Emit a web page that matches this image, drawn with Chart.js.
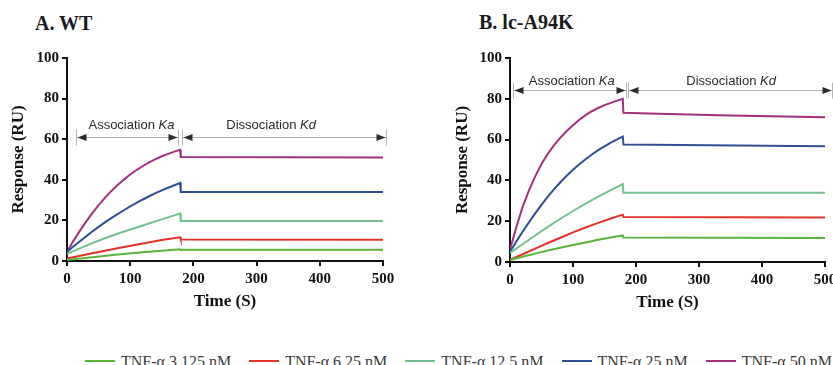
<!DOCTYPE html>
<html>
<head>
<meta charset="utf-8">
<script src="https://cdn.jsdelivr.net/npm/chart.js@4.4.0/dist/chart.umd.min.js"></script>
<style>
  body { margin: 0; width: 833px; height: 365px; overflow: hidden; background: #fff; position: relative; }
  canvas { position: absolute; top: 0; }
  #chartA { left: 0; }
  #chartB { left: 416px; }
  .ptitle { position: absolute; font: bold 20px/20px "Liberation Serif", serif; color: #1a1a1a; white-space: nowrap; }
  #legend { position: absolute; left: 85px; top: 354px; display: flex; gap: 18px; font: 16px/16px "Liberation Serif", serif; color: #3a3a3a; white-space: nowrap; }
  #legend .item { display: flex; align-items: center; }
  #legend .swatch { display: inline-block; width: 30px; height: 2px; margin-right: 6px; position: relative; top: -1px; }
</style>
</head>
<body>
<div class="ptitle" style="left:35px; top:13px;">A. WT</div>
<div class="ptitle" style="left:479px; top:12px;">B. lc-A94K</div>
<canvas id="chartA" width="416" height="317"></canvas>
<canvas id="chartB" width="440" height="318"></canvas>
<div id="legend"></div>
<script>
// concentrations and colours of the five curves
const concentrations = ['3.125', '6.25', '12.5', '25', '50'];
const colors = ['#5ab33e', '#e2332b', '#74bf8f', '#2f4f93', '#a3307e'];

// panel A (WT): [time s, response RU]
const wt3 = [[0,0.5],[40,1.9],[80,3.2],[120,4.3],[150,5.1],[179,5.8],[180,5.6],[500,5.6]];
const wt6 = [[0,1.2],[40,3.8],[80,6.3],[120,8.6],[150,10.3],[179,11.7],[180,10.6],[500,10.5]];
const wt12 = [[0,3.5],[20,6.2],[40,8.8],[60,11.2],[80,13.4],[100,15.5],[120,17.5],[140,19.5],[160,21.5],[179,23.4],[180,19.7],[500,19.7]];
const wt25 = [[0,4.5],[10,7.1],[20,9.6],[30,12.1],[40,14.5],[50,16.8],[60,19],[70,21.1],[80,23.1],[90,25],[100,26.9],
  [110,28.6],[120,30.3],[130,31.9],[140,33.4],[150,34.8],[160,36.1],[170,37.3],[179,38.4],[180,34],[500,34]];
const wt50 = [[0,4.5],[10,9.8],[20,14.7],[30,19.3],[40,23.6],[50,27.5],[60,31.1],[70,34.4],[80,37.4],[90,40.1],[100,42.6],
  [110,44.8],[120,46.8],[130,48.6],[140,50.2],[150,51.6],[160,52.8],[170,53.9],[179,54.8],[180,51.2],[500,51]];

// panel B (lc-A94K)
const mut3 = [[0,1],[20,2.6],[40,4.1],[60,5.6],[80,7],[100,8.3],[120,9.6],[140,10.9],[160,12],[179,13],[180,12],[500,11.8]];
const mut6 = [[0,1],[20,3.8],[40,6.6],[60,9.3],[80,11.9],[100,14.5],[120,16.9],[140,19.2],[160,21.3],[179,23.2],[180,22.1],[500,21.8]];
const mut12 = [[0,4.5],[20,8.7],[40,13],[60,17.2],[80,21.2],[100,25],[120,28.6],[140,32],[160,35.2],[179,38.2],[180,34],[500,34]];
const mut25 = [[0,5],[10,10],[20,14.8],[30,19.4],[40,23.8],[50,28],[60,32],[70,35.7],[80,39.1],[90,42.3],[100,45.2],
  [110,47.9],[120,50.4],[130,52.7],[140,54.8],[150,56.7],[160,58.5],[170,60.1],[179,61.5],[180,57.6],[500,56.8]];
const mut50 = [[0,6],[10,17],[20,27],[30,35],[40,42],[50,48],[60,53],[70,57.3],[80,61],[90,64.2],[100,67],[110,69.7],
  [120,72],[130,73.9],[140,75.5],[150,76.9],[160,78],[170,79.1],[179,80],[180,73.2],[250,72.5],[350,71.8],[500,71]];

// phase annotations: arrow spans (s), arrow level, text level, text centre (s)
const wtAssoc = [14, 176], wtDissoc = [182, 505];
const wtArrowY = 61, wtTextY = 67, wtTextX = [102, 323];
const mutAssoc = [5, 184], mutDissoc = [187, 511];
const mutArrowY = 84.3, mutTextY = 88.7, mutTextX = [98, 351];

const serif = '"Liberation Serif", "Times New Roman", serif';
const sans = '"Liberation Sans", Arial, sans-serif';

function toPoints(arr) {
  return arr.map(p => ({ x: p[0], y: p[1] }));
}

function makeDatasets(series) {
  return series.map((s, i) => ({
    label: 'TNF-α ' + concentrations[i] + ' nM',
    data: toPoints(s),
    borderColor: colors[i],
    borderWidth: 2,
    pointRadius: 0,
    fill: false,
    tension: 0,
  }));
}

function drawHead(ctx, x, y, dir) {
  ctx.beginPath();
  ctx.moveTo(x, y);
  ctx.lineTo(x + dir * 9, y - 3.5);
  ctx.lineTo(x + dir * 9, y + 3.5);
  ctx.closePath();
  ctx.fill();
}

function drawLabel(ctx, cx, cy, word, italic) {
  ctx.font = '13px ' + sans;
  const w1 = ctx.measureText(word + ' ').width;
  ctx.font = 'italic 13px ' + sans;
  const w2 = ctx.measureText(italic).width;
  let x = cx - (w1 + w2) / 2;
  ctx.fillStyle = '#2a2a2a';
  ctx.textBaseline = 'middle';
  ctx.textAlign = 'left';
  ctx.font = '13px ' + sans;
  ctx.fillText(word + ' ', x, cy);
  ctx.font = 'italic 13px ' + sans;
  ctx.fillText(italic, x + w1, cy);
}

const phasePlugin = {
  id: 'phases',
  afterDatasetsDraw(chart, args, opts) {
    const { ctx, scales: { x, y } } = chart;
    const ay = Math.round(y.getPixelForValue(opts.arrowY)) + 0.5;
    const ty = y.getPixelForValue(opts.textY);
    ctx.save();
    [opts.assoc, opts.dissoc].forEach(span => {
      const x1 = Math.round(x.getPixelForValue(span[0])) + 0.5;
      const x2 = Math.round(x.getPixelForValue(span[1])) + 0.5;
      ctx.strokeStyle = '#b5b5b5';
      ctx.lineWidth = 1;
      ctx.beginPath();
      ctx.moveTo(x1, ay); ctx.lineTo(x2, ay);
      ctx.moveTo(x1, ay - 8); ctx.lineTo(x1, ay + 8);
      ctx.moveTo(x2, ay - 8); ctx.lineTo(x2, ay + 8);
      ctx.stroke();
      ctx.fillStyle = '#2a2a2a';
      drawHead(ctx, x1 + 1, ay, 1);
      drawHead(ctx, x2 - 1, ay, -1);
    });
    drawLabel(ctx, x.getPixelForValue(opts.textX[0]), ty, 'Association', 'Ka');
    drawLabel(ctx, x.getPixelForValue(opts.textX[1]), ty, 'Dissociation', 'Kd');
    ctx.restore();
  }
};

function makeChart(id, series, yWidth, yTitlePad, rightPad, xHeight, phases) {
  return new Chart(document.getElementById(id), {
    type: 'line',
    data: { datasets: makeDatasets(series) },
    plugins: [phasePlugin],
    options: {
      responsive: false,
      animation: false,
      layout: { padding: { top: 58, right: rightPad, left: 0, bottom: 0 } },
      plugins: {
        legend: { display: false },
        tooltip: { enabled: false },
        phases: phases,
      },
      scales: {
        x: {
          type: 'linear',
          min: 0,
          max: 500,
          ticks: { stepSize: 100, padding: 4, color: '#111', font: { family: serif, size: 15, weight: 'bold' } },
          grid: { drawOnChartArea: false, tickLength: 5, color: '#111', lineWidth: 2 },
          border: { color: '#111', width: 2 },
          title: { display: true, text: 'Time (S)', color: '#111', padding: { top: 0, bottom: 5 }, font: { family: serif, size: 17, weight: 'bold' } },
          afterFit: s => { s.height = xHeight; },
        },
        y: {
          min: 0,
          max: 100,
          ticks: { stepSize: 20, padding: 3, color: '#111', font: { family: serif, size: 15, weight: 'bold' } },
          grid: { drawOnChartArea: false, tickLength: 5, color: '#111', lineWidth: 2 },
          border: { color: '#111', width: 2 },
          title: { display: true, text: 'Response (RU)', color: '#111', padding: { top: yTitlePad, bottom: 0 }, font: { family: serif, size: 17, weight: 'bold' } },
          afterFit: s => { s.width = yWidth; },
        },
      },
    },
  });
}

makeChart('chartA', [wt3, wt6, wt12, wt25, wt50], 67, 8, 33, 56,
  { assoc: wtAssoc, dissoc: wtDissoc, arrowY: wtArrowY, textY: wtTextY, textX: wtTextX });
makeChart('chartB', [mut3, mut6, mut12, mut25, mut50], 94, 36, 31, 56,
  { assoc: mutAssoc, dissoc: mutDissoc, arrowY: mutArrowY, textY: mutTextY, textX: mutTextX });

// shared legend below both panels
const legend = document.getElementById('legend');
concentrations.forEach((c, i) => {
  const item = document.createElement('div');
  item.className = 'item';
  const sw = document.createElement('span');
  sw.className = 'swatch';
  sw.style.background = colors[i];
  item.appendChild(sw);
  item.appendChild(document.createTextNode('TNF-α ' + c + ' nM'));
  legend.appendChild(item);
});
</script>
</body>
</html>
